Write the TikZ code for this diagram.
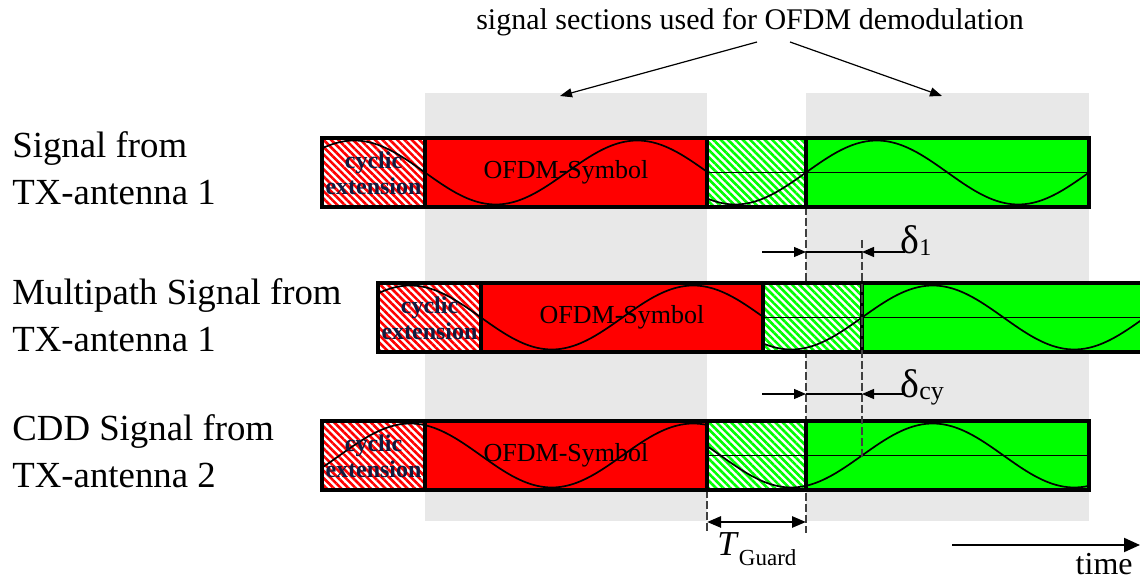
\documentclass[tikz,border=0pt]{standalone}
\usepackage{fontspec}
\setmainfont{Liberation Serif}
\usetikzlibrary{arrows.meta, positioning, patterns.meta}

\definecolor{symred}{RGB}{255,0,0}
\definecolor{symgreen}{RGB}{0,255,0}
\definecolor{bandgray}{RGB}{232,232,232}
\definecolor{extnavy}{RGB}{16,28,64}
\definecolor{guidegray}{RGB}{64,64,64}

\tikzset{
  blockline/.style={line width=2pt},
  wave/.style={line width=0.85pt},
  axisline/.style={line width=0.75pt},
  redhatch/.style={pattern={Lines[angle=-45,distance=2.6pt,line width=1.3pt]}, pattern color=symred},
  greenhatch/.style={pattern={Lines[angle=-45,distance=2.6pt,line width=1.3pt]}, pattern color=symgreen},
  guide/.style={guidegray, line width=0.6pt, dash pattern=on 4pt off 1.5pt},
  dimarrow/.style={line width=0.6pt, -{Triangle[length=6pt, width=5pt]}},
  pointer/.style={line width=0.6pt, -{Triangle[length=6pt, width=4.5pt]}},
  rowlabel/.style={anchor=base west, align=left, inner sep=0pt, font=\fontsize{18.4}{23.5}\selectfont},
  cyclabel/.style={align=center, inner sep=0pt, text=extnavy, font=\fontsize{12}{13}\selectfont\bfseries},
  symlabel/.style={inner sep=0pt, font=\fontsize{13}{15}\selectfont},
  deltalabel/.style={anchor=base west, inner sep=0pt, font=\fontsize{20}{22}\selectfont},
}

% one transmitted signal: cyclic extension, OFDM symbol, guard part, next symbol
% #1 name, #2 left edge, #3 top edge, #4 delay of the waveform
\newcommand{\ofdmrow}[4]{%
  \pgfmathsetmacro{\xa}{#2}
  \pgfmathsetmacro{\xb}{#2+103}
  \pgfmathsetmacro{\xc}{#2+385}
  \pgfmathsetmacro{\xd}{#2+484}
  \pgfmathsetmacro{\xe}{#2+767}
  \pgfmathsetmacro{\yt}{#3}
  \pgfmathsetmacro{\yb}{#3+69}
  \pgfmathsetmacro{\ym}{#3+34.5}
  \fill[white] (\xa,\yt) rectangle (\xb,\yb);
  \fill[redhatch] (\xa,\yt) rectangle (\xb,\yb);
  \fill[symred] (\xb,\yt) rectangle (\xc,\yb);
  \fill[white] (\xc,\yt) rectangle (\xd,\yb);
  \fill[greenhatch] (\xc,\yt) rectangle (\xd,\yb);
  \fill[symgreen] (\xd,\yt) rectangle (\xe,\yb);
  \draw[axisline] (\xc,\ym) -- (\xe,\ym);
  \draw[wave] plot[domain=\xa:\xc, samples=90, smooth] (\x, {\ym + 32*sin(1.2721*(\x-\xb-#4))});
  \draw[wave] plot[domain=\xc:\xe, samples=90, smooth] (\x, {\ym - 32*sin(1.2721*(\x-\xd-#4))});
  \draw[blockline] (\xa,\yt) rectangle (\xe,\yb);
  \foreach \xs in {\xb,\xc,\xd}
    \draw[blockline] (\xs,\yt) -- (\xs,\yb);
  \node[cyclabel] (#1-cyc) at ({(\xa+\xb)/2},\ym+1) {cyclic\\extension};
  \node[symlabel] (#1-sym) at ({(\xb+\xc)/2},\ym) {OFDM-Symbol};
}

\begin{document}
\begin{tikzpicture}[x=0.5pt, y=-0.5pt]
  \useasboundingbox (0,0) rectangle (1140,581);

  % windows taken for demodulation
  \fill[bandgray] (425,93) rectangle (707,521);
  \fill[bandgray] (806,93) rectangle (1089,521);

  \node[anchor=base, inner sep=0pt, font=\fontsize{15}{17}\selectfont] (sections) at (750,30)
    {signal sections used for OFDM demodulation};
  \coordinate (secL) at (757,42);
  \coordinate (secR) at (790,42);
  \coordinate (bandL) at (560,96);
  \coordinate (bandR) at (942,96);
  \draw[pointer] (secL) -- (bandL);
  \draw[pointer] (secR) -- (bandR);

  % guide lines behind the signals
  \coordinate (g1top) at (806,207);
  \coordinate (g1bot) at (806,533);
  \coordinate (g0top) at (707,490);
  \coordinate (g0bot) at (707,533);
  \draw[guide] (g1top) -- (g1bot);
  \draw[guide] (g0top) -- (g0bot);

  % base anchor sits on the second line
  \node[rowlabel] (tx1) at (12,205) {Signal from\\TX-antenna 1};
  \node[rowlabel] (mp1) at (12,352) {Multipath Signal from\\TX-antenna 1};
  \node[rowlabel] (cdd2) at (12,488) {CDD Signal from\\TX-antenna 2};

  \ofdmrow{tx}{322}{138}{0}
  \ofdmrow{mp}{378}{283}{0}
  \ofdmrow{cdd}{322}{421}{56}

  \coordinate (g2top) at (862,240);
  \coordinate (g2bot) at (862,458);
  \draw[guide] (g2top) -- (g2bot);

  % delay marks
  \coordinate (d1a) at (762,252);
  \coordinate (d1b) at (806,252);
  \coordinate (d1c) at (862,252);
  \coordinate (d1d) at (905,252);
  \draw[dimarrow] (d1a) -- (d1b);
  \draw[line width=0.6pt] (d1b) -- (d1c);
  \draw[dimarrow] (d1d) -- (d1c);
  \node[deltalabel] (delta1) at (900,254) {δ\raisebox{-1pt}{\fontsize{12}{14}\selectfont 1}};

  \coordinate (dca) at (762,394);
  \coordinate (dcb) at (806,394);
  \coordinate (dcc) at (862,394);
  \coordinate (dcd) at (905,394);
  \draw[dimarrow] (dca) -- (dcb);
  \draw[line width=0.6pt] (dcb) -- (dcc);
  \draw[dimarrow] (dcd) -- (dcc);
  \node[deltalabel] (deltacy) at (900,398) {δ\raisebox{-1pt}{\fontsize{13}{14}\selectfont cy}};

  % guard interval
  \coordinate (tga) at (707,522);
  \coordinate (tgb) at (806,522);
  \draw[line width=1.3pt, {Triangle[length=7pt, width=5.5pt]}-{Triangle[length=7pt, width=5.5pt]}] (tga) -- (tgb);
  \node[anchor=base west, inner sep=0pt, font=\fontsize{17.5}{19}\selectfont] (tguard) at (717,556)
    {\textit{T}\raisebox{-5pt}{\fontsize{11.5}{13}\selectfont Guard}};

  % time axis
  \coordinate (tstart) at (952,545);
  \coordinate (tend) at (1140,545);
  \draw[line width=1pt, -{Triangle[length=8pt, width=7pt]}] (tstart) -- (tend);
  \node[anchor=base east, inner sep=0pt, font=\fontsize{16}{18}\selectfont] (timelbl) at (1133,575) {time};
\end{tikzpicture}
\end{document}
